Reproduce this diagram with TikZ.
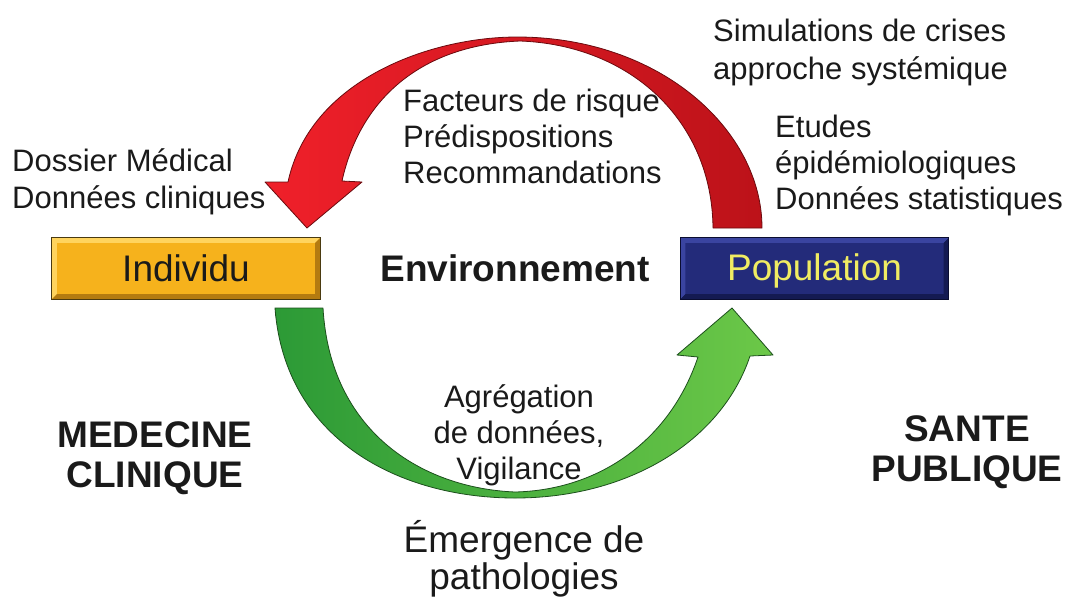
\documentclass[tikz,border=0pt]{standalone}
\usepackage{fontspec}
\setmainfont{Liberation Sans}
\definecolor{indfill}{HTML}{F6B21C}
\definecolor{indlight}{HTML}{FFD45E}
\definecolor{inddark}{HTML}{B47B10}
\definecolor{indborder}{HTML}{4A3A10}
\definecolor{popfill}{HTML}{232B7A}
\definecolor{poplight}{HTML}{3A44A0}
\definecolor{popdark}{HTML}{141A52}
\definecolor{popborder}{HTML}{0A0D30}
\definecolor{poptext}{HTML}{F0EC62}
\definecolor{redL}{HTML}{F0202A}
\definecolor{redR}{HTML}{BC1219}
\definecolor{redline}{HTML}{6A0A0E}
\definecolor{greenL}{HTML}{2C9A36}
\definecolor{greenR}{HTML}{6CC848}
\definecolor{greenline}{HTML}{1C4F1C}
\definecolor{txt}{HTML}{1A1A1A}
\begin{document}
\begin{tikzpicture}[x=1pt,y=-1pt,
  plain/.style={font=\fontsize{31}{36}\selectfont, text=txt, inner sep=0pt, align=left},
  bold/.style={font=\bfseries\fontsize{37}{40}\selectfont, text=txt, inner sep=0pt, align=center},
  boxtext/.style={font=\fontsize{37}{40}\selectfont, inner sep=0pt, minimum width=268pt, minimum height=61pt},
  redarrow/.style={left color=redL, right color=redR, draw=redline, line width=0.8pt, line join=round},
  greenarrow/.style={left color=greenL, right color=greenR, draw=greenline, line width=0.8pt, line join=round}]
\useasboundingbox (0,0) rectangle (1067,598);

% red arrow (Population -> Individu)
\path[redarrow]
  (762,228) .. controls (762,130) and (660,37) .. (517,37)
  .. controls (430,37) and (310,80) .. (288,182)
  -- (265,182) -- (307,228) -- (362,182) -- (342,181)
  .. controls (360,100) and (420,45) .. (520,41)
  .. controls (630,45) and (712,120) .. (713,228) -- cycle;

% green arrow (Individu -> Population)
\path[greenarrow]
  (275,308) .. controls (285,440) and (400,498) .. (515,498)
  .. controls (630,498) and (722,440) .. (750,356)
  -- (773,355) -- (732,308) -- (677,355) -- (698,357)
  .. controls (670,440) and (600,490) .. (515,492)
  .. controls (420,488) and (330,430) .. (323,308) -- cycle;

% Individu box
\node[boxtext, fill=indfill, text=txt] (ind) at (186,268.5) {};
\fill[indlight] (ind.north west) -- (ind.north east) -- ([shift={(-5,5)}]ind.north east) -- ([shift={(5,5)}]ind.north west) -- ([shift={(5,-5)}]ind.south west) -- (ind.south west) -- cycle;
\fill[inddark] (ind.south east) -- (ind.south west) -- ([shift={(5,-5)}]ind.south west) -- ([shift={(-5,-5)}]ind.south east) -- ([shift={(-5,5)}]ind.north east) -- (ind.north east) -- cycle;
\draw[indborder, line width=1pt] (ind.north west) rectangle (ind.south east);
\node[font=\fontsize{37}{40}\selectfont, text=txt, inner sep=0pt] (indlabel) at (ind.center) {Individu};

% Population box
\node[boxtext, fill=popfill] (pop) at (814.5,268.5) {};
\fill[poplight] (pop.north west) -- (pop.north east) -- ([shift={(-5,5)}]pop.north east) -- ([shift={(5,5)}]pop.north west) -- ([shift={(5,-5)}]pop.south west) -- (pop.south west) -- cycle;
\fill[popdark] (pop.south east) -- (pop.south west) -- ([shift={(5,-5)}]pop.south west) -- ([shift={(-5,-5)}]pop.south east) -- ([shift={(-5,5)}]pop.north east) -- (pop.north east) -- cycle;
\draw[popborder, line width=1pt] (pop.north west) rectangle (pop.south east);
\node[font=\fontsize{37}{40}\selectfont, text=poptext, inner sep=0pt] (poplabel) at ([yshift=-2]pop.center) {Population};

% texts (base anchor = baseline of the last line)
\node[plain, anchor=base west] (simu) at (713,79) {Simulations de crises\\[2pt]approche systémique};
\node[plain, anchor=base west] (fact) at (403,183) {Facteurs de risque\\Prédispositions\\Recommandations};
\node[plain, anchor=base west] (doss) at (12,208) {Dossier Médical\\[1pt]Données cliniques};
\node[plain, anchor=base west] (etud) at (775,209) {Etudes\\épidémiologiques\\Données statistiques};
\node[bold, anchor=center] (env) at (515,268) {Environnement};
\node[bold, anchor=base] (med) at (155,487) {MEDECINE\\CLINIQUE};
\node[bold, anchor=base] (sante) at (967,481) {SANTE\\PUBLIQUE};
\node[plain, align=center, anchor=base] (agr) at (519,479) {Agrégation\\de données,\\Vigilance};
\node[font=\fontsize{37}{37}\selectfont, text=txt, inner sep=0pt, align=center, anchor=base] (emer) at (524,589) {Émergence de\\pathologies};
\end{tikzpicture}
\end{document}
